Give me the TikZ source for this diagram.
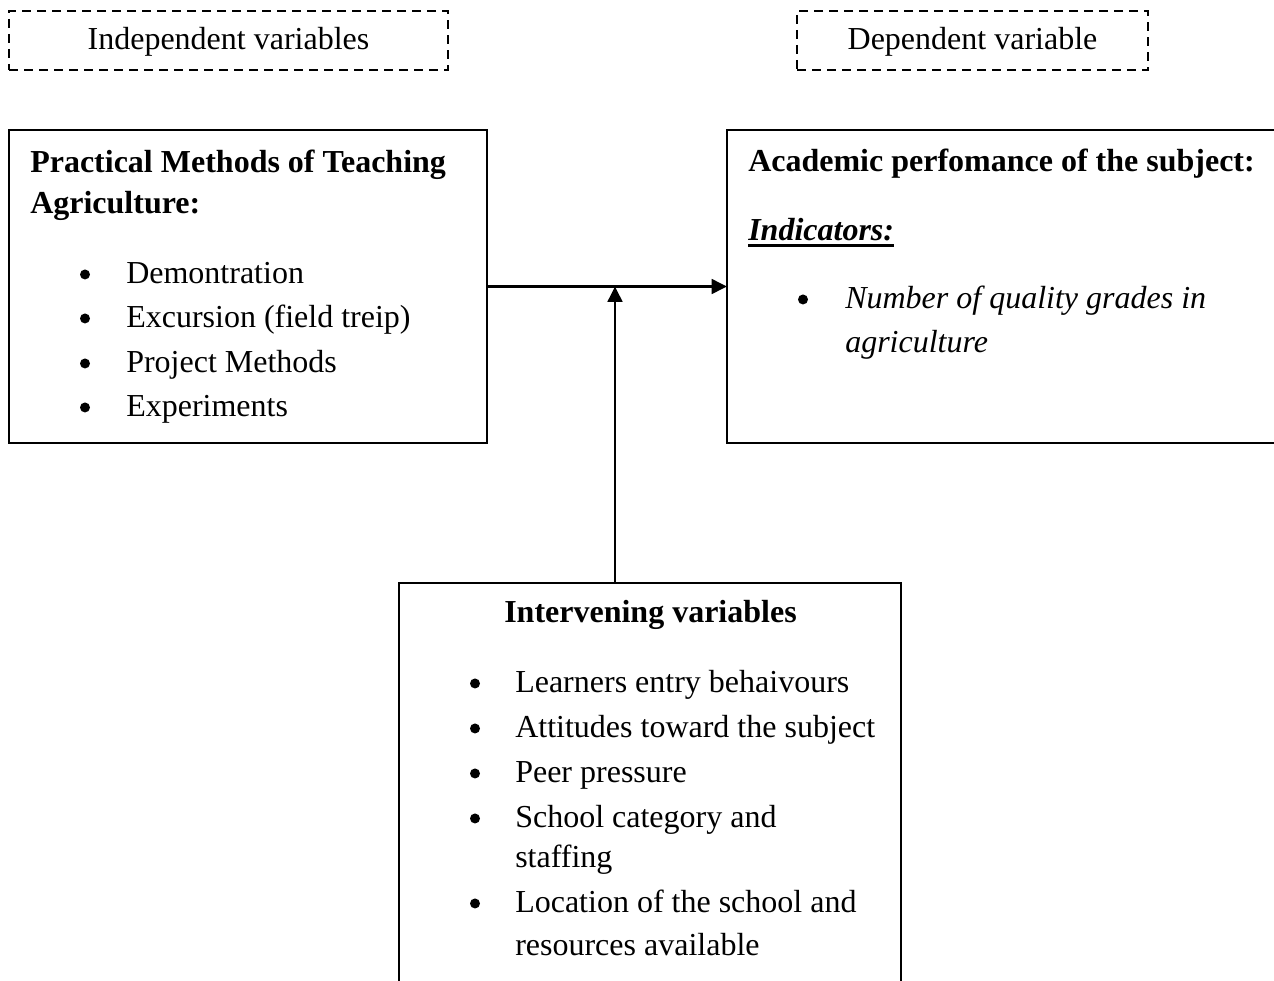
\documentclass[tikz,border=0pt]{standalone}
\usepackage{fontspec}
\setmainfont{Liberation Serif}
\usetikzlibrary{arrows.meta}
\newcommand\diagsize{\fontsize{24}{33.4}\selectfont}
\begin{document}
\begin{tikzpicture}[x=0.75pt,y=-0.75pt,
  dashbox/.style={draw, line width=2pt, dash pattern=on 6.75pt off 4.5pt,
    inner sep=0pt, outer sep=0pt, minimum height=44.25pt,
    text height=18pt, text depth=3.75pt, font=\diagsize},
  solidbox/.style={draw, line width=1.9pt, inner sep=0pt, outer sep=0pt, anchor=north west},
  txt/.style={anchor=base west, inner sep=0pt, font=\diagsize},
  btxt/.style={anchor=base west, inner sep=0pt, font=\diagsize\bfseries},
  itxt/.style={anchor=base west, inner sep=0pt, font=\diagsize\itshape},
  bul/.style={circle, fill, draw=none, inner sep=0pt, minimum size=7.5pt, yshift=6.4pt},
  conn/.style={line width=1.9pt, -{Triangle[length=11.5pt,width=11pt]}}
]
\useasboundingbox (0,0) rectangle (1274,981);

% dashed header boxes
\node[dashbox, minimum width=329.25pt] (indep) at (228.5,40.5) {Independent variables};
\node[dashbox, minimum width=263.25pt] (dep) at (972.5,40.5) {Dependent variable};

% main boxes
\node[solidbox, minimum width=358.5pt, minimum height=234.75pt] (pm) at (9,130) {};
\node[solidbox, minimum width=440pt, minimum height=234.75pt] (ap) at (727,130) {};
\node[solidbox, minimum width=376.5pt, minimum height=320pt] (int) at (399,583) {};

% left box text
\node[btxt] (pm1) at (30,172) {Practical Methods of Teaching};
\node[btxt] (pm2) at (30,213) {Agriculture:};
\node[bul] (pb1) at (85,283) {};
\node[bul] (pb2) at (85,327) {};
\node[bul] (pb3) at (85,372) {};
\node[bul] (pb4) at (85,416) {};
\node[txt] (pi1) at (126,283) {Demontration};
\node[txt] (pi2) at (126,327) {Excursion (field treip)};
\node[txt] (pi3) at (126,372) {Project Methods};
\node[txt] (pi4) at (126,416) {Experiments};

% right box text
\node[btxt] (ap1) at (748,171) {Academic perfomance of the subject:};
\node[btxt, font=\diagsize\bfseries\itshape] (ind) at (748,240) {Indicators:};
\draw[line width=2.2pt] ([yshift=-3.9pt]ind.base west) -- ([yshift=-3.9pt]ind.base east);
\node[bul] (ab1) at (803,308) {};
\node[itxt] (ai1) at (845,308) {Number of quality grades in};
\node[itxt] (ai2) at (845,352) {agriculture};

% bottom box text
\node[anchor=base, inner sep=0pt, font=\diagsize\bfseries] (iv0) at (650.5,622) {Intervening variables};
\node[bul] (ib1) at (475,692) {};
\node[bul] (ib2) at (475,737) {};
\node[bul] (ib3) at (475,782) {};
\node[bul] (ib4) at (475,827) {};
\node[bul] (ib5) at (475,912) {};
\node[txt] (ii1) at (515,692) {Learners entry behaivours};
\node[txt] (ii2) at (515,737) {Attitudes toward the subject};
\node[txt] (ii3) at (515,782) {Peer pressure};
\node[txt] (ii4) at (515,827) {School category and};
\node[txt] (ii4b) at (515,867) {staffing};
\node[txt] (ii5) at (515,912) {Location of the school and};
\node[txt] (ii5b) at (515,955) {resources available};

% connectors
\coordinate (jn) at (615,286.5);
\draw[conn] (pm.east) -- (ap.west);
\draw[conn] (int.north -| jn) -- (jn);
\end{tikzpicture}
\end{document}
